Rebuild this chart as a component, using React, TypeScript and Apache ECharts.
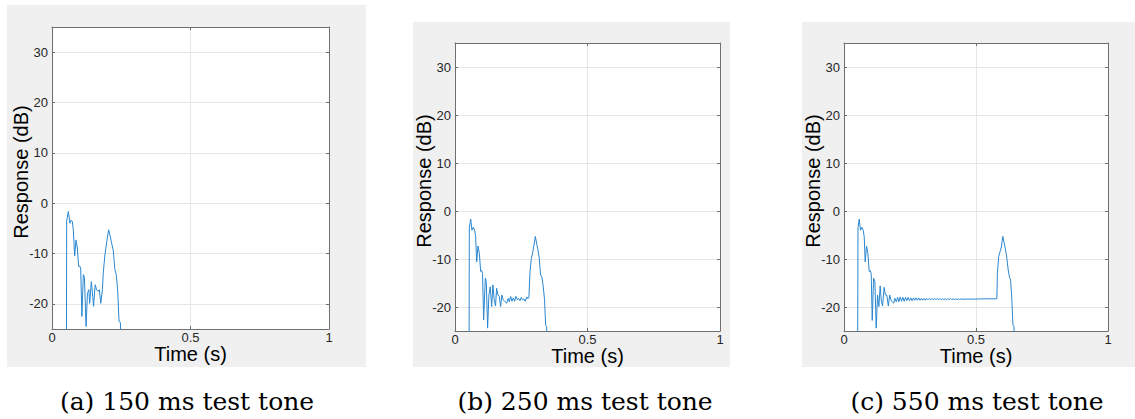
import React, { useEffect, useRef } from 'react';
import * as echarts from 'echarts';

// ---------- data ----------
const xTicks = [0, 0.5, 1];
const yTicks = [-20, -10, 0, 10, 20, 30];
const captions = ['(a) 150 ms test tone', '(b) 250 ms test tone', '(c) 550 ms test tone'];
const xTitle = 'Time (s)';
const yTitle = 'Response (dB)';

// (a) 150 ms test tone
const timeA = [0.0517, 0.053, 0.059, 0.065, 0.0686, 0.0734, 0.077, 0.0818, 0.0866, 0.0914, 0.0963, 0.0999, 0.1035, 0.108, 0.113, 0.117, 0.123, 0.128, 0.133, 0.136, 0.142, 0.147, 0.150, 0.156, 0.161, 0.166, 0.171, 0.176, 0.182, 0.185, 0.191, 0.197, 0.2045, 0.209, 0.215, 0.221, 0.227, 0.232, 0.237, 0.242, 0.247, 0.250];
const respA = [-40, -3.5, -1.66, -4.0, -3.4, -3.6, -5.3, -10.5, -7.3, -8.9, -12.6, -12.5, -12.9, -22.5, -14.2, -14.7, -24.5, -17.9, -17.2, -19.9, -15.6, -18.5, -20.5, -16.2, -17.2, -17.5, -17.2, -19.9, -17.2, -13.9, -10.3, -7.9, -5.3, -6.3, -7.9, -9.3, -13.2, -14.2, -17.2, -23.5, -23.7, -40];

// (b) 250 ms test tone
const timeB = [0.0528, 0.054, 0.0591, 0.064, 0.069, 0.074, 0.078, 0.0818, 0.0868, 0.0918, 0.0969, 0.1006, 0.104, 0.108, 0.1145, 0.118, 0.123, 0.128, 0.133, 0.1384, 0.143, 0.148, 0.153, 0.157, 0.162, 0.167, 0.172, 0.177, 0.182, 0.189, 0.195, 0.201, 0.205, 0.210, 0.215, 0.220, 0.225, 0.230, 0.235, 0.240, 0.245, 0.250, 0.255, 0.260, 0.265, 0.271, 0.275, 0.279, 0.283, 0.288, 0.293, 0.298, 0.303, 0.308, 0.313, 0.318, 0.323, 0.328, 0.333, 0.338, 0.342, 0.346, 0.348];
const respB = [-40, -3.5, -1.67, -4.0, -3.4, -4.0, -5.3, -10.6, -7.3, -8.8, -12.6, -12.4, -13.0, -22.7, -14.0, -14.7, -24.4, -17.5, -15.8, -19.9, -15.4, -18.5, -19.8, -16.1, -17.5, -17.8, -19.9, -17.5, -18.5, -18.9, -19.2, -18.2, -18.9, -17.8, -18.8, -18.1, -18.8, -17.8, -18.5, -18.2, -18.7, -18.0, -18.5, -18.3, -18.8, -17.9, -18.3, -18.0, -12.6, -9.9, -8.7, -7.1, -5.3, -6.7, -8.1, -9.9, -13.3, -13.8, -15.8, -18.5, -23.8, -24.1, -40];

// (c) 550 ms test tone
const timeC = [0.0512, 0.053, 0.0576, 0.0626, 0.0677, 0.0727, 0.0765, 0.0803, 0.0854, 0.0905, 0.0955, 0.0993, 0.103, 0.107, 0.112, 0.117, 0.122, 0.127, 0.132, 0.137, 0.141, 0.146, 0.152, 0.157, 0.162, 0.168, 0.173, 0.178, 0.183, 0.188, 0.193, 0.198, 0.203, 0.208, 0.213, 0.218, 0.223, 0.228, 0.233, 0.238, 0.243, 0.248, 0.253, 0.258, 0.263, 0.268, 0.273, 0.278, 0.283, 0.288, 0.293, 0.298, 0.303, 0.308, 0.313, 0.318, 0.323, 0.328, 0.333, 0.338, 0.343, 0.348, 0.353, 0.358, 0.363, 0.368, 0.373, 0.378, 0.383, 0.388, 0.393, 0.398, 0.403, 0.408, 0.413, 0.418, 0.423, 0.428, 0.433, 0.438, 0.443, 0.448, 0.46, 0.48, 0.50, 0.52, 0.54, 0.56, 0.579, 0.581, 0.586, 0.591, 0.596, 0.6015, 0.607, 0.612, 0.617, 0.622, 0.627, 0.631, 0.635, 0.640, 0.644, 0.646];
const respC = [-40, -3.5, -1.7, -4.0, -3.4, -4.0, -5.3, -10.6, -7.3, -8.8, -12.6, -12.4, -13.0, -22.8, -14.0, -14.7, -24.4, -17.5, -19.9, -15.6, -18.5, -19.8, -15.9, -17.5, -17.5, -19.8, -17.5, -18.5, -18.9, -19.2, -18.2, -18.9, -18.0, -18.9, -17.9, -18.8, -18.0, -18.8, -18.0, -18.7, -18.0, -18.7, -18.1, -18.7, -18.1, -18.6, -18.1, -18.6, -18.1, -18.6, -18.2, -18.6, -18.2, -18.6, -18.2, -18.5, -18.2, -18.5, -18.2, -18.5, -18.2, -18.5, -18.2, -18.5, -18.2, -18.5, -18.25, -18.5, -18.25, -18.5, -18.25, -18.45, -18.25, -18.45, -18.3, -18.45, -18.3, -18.45, -18.3, -18.45, -18.3, -18.4, -18.35, -18.35, -18.35, -18.3, -18.3, -18.3, -18.3, -13.0, -9.5, -8.5, -7.5, -5.3, -6.7, -8.1, -9.9, -12.3, -13.8, -14.4, -17.5, -23.8, -24.0, -40];

const seriesTimes = [timeA, timeB, timeC];
const seriesResp = [respA, respB, respC];

// ---------- layout ----------
const panels = [
  { grid: { left: 52, top: 27, width: 277, height: 302 }, bg: [7, 5, 359, 362], capX: 187 },
  { grid: { left: 455, top: 43, width: 265, height: 288 }, bg: [413, 22, 317, 345], capX: 585 },
  { grid: { left: 844, top: 43, width: 264, height: 288 }, bg: [802, 22, 333, 345], capX: 977 },
];

const AX = '#6f6f6f';
const GRIDC = '#e6e6e6';
const SANS = '"Liberation Sans", Arial, Helvetica, sans-serif';

function buildOption() {
  const grid: any[] = [];
  const xAxis: any[] = [];
  const yAxis: any[] = [];
  const series: any[] = [];
  const graphic: any[] = [];

  panels.forEach((p, i) => {
    grid.push({ ...p.grid, show: true, backgroundColor: '#ffffff', borderWidth: 0 });
    const line = { show: true, onZero: false, lineStyle: { color: AX, width: 1 } };
    const tick = { show: true, inside: true, length: 3, lineStyle: { color: AX } };
    xAxis.push({
      type: 'value', gridIndex: i, position: 'bottom', min: 0, max: 1, interval: 0.5,
      axisLine: line, axisTick: { ...tick, customValues: xTicks },
      axisLabel: { customValues: xTicks, color: '#262626', fontSize: 13, fontFamily: SANS, margin: 2, lineHeight: 13 },
      splitLine: { show: true, lineStyle: { color: GRIDC, width: 1 } },
      name: xTitle, nameLocation: 'middle', nameGap: 16, nameMoveOverlap: false,
      nameTextStyle: { color: '#000', fontSize: 20, fontFamily: SANS, lineHeight: 18 },
    });
    xAxis.push({
      type: 'value', gridIndex: i, position: 'top', min: 0, max: 1, interval: 0.5,
      axisLine: line, axisTick: tick, axisLabel: { show: false }, splitLine: { show: false },
    });
    yAxis.push({
      type: 'value', gridIndex: i, position: 'left', min: -25, max: 35,
      axisLine: line, axisTick: { ...tick, customValues: yTicks },
      axisLabel: { customValues: yTicks, color: '#262626', fontSize: 13, fontFamily: SANS, margin: 4 },
      splitLine: { show: true, lineStyle: { color: GRIDC, width: 1 } },
      name: yTitle, nameLocation: 'middle', nameGap: 21, nameMoveOverlap: false,
      nameTextStyle: { color: '#000', fontSize: 20, fontFamily: SANS, padding: [0, 0, 0, 12] },
    });
    yAxis.push({
      type: 'value', gridIndex: i, position: 'right', min: -25, max: 35,
      axisLine: line, axisTick: { ...tick, customValues: yTicks },
      axisLabel: { show: false }, splitLine: { show: false },
    });
    series.push({
      type: 'line', xAxisIndex: 2 * i, yAxisIndex: 2 * i, showSymbol: false, clip: true,
      lineStyle: { color: '#2a86d0', width: 1 },
      data: seriesTimes[i].map((t, k) => [t, seriesResp[i][k]]),
    });
    graphic.push({
      type: 'rect', z: -10, shape: { x: p.bg[0], y: p.bg[1], width: p.bg[2], height: p.bg[3] },
      style: { fill: '#f0f0f0' }, silent: true,
    });
    graphic.push({
      type: 'text', x: p.capX, y: 401,
      style: { text: captions[i], fontSize: 25, fontFamily: '"DejaVu Serif", serif', fill: '#000', align: 'center', verticalAlign: 'middle' },
    });
  });

  return { animation: false, backgroundColor: '#ffffff', grid, xAxis, yAxis, series, graphic };
}

export default function App() {
  const ref = useRef<HTMLDivElement>(null);
  useEffect(() => {
    if (!ref.current) return;
    const chart = echarts.init(ref.current, undefined, { renderer: 'svg' });
    chart.setOption(buildOption() as any);
    return () => chart.dispose();
  }, []);
  return <div ref={ref} style={{ position: 'fixed', left: 0, top: 0, width: 1135, height: 419 }} />;
}
